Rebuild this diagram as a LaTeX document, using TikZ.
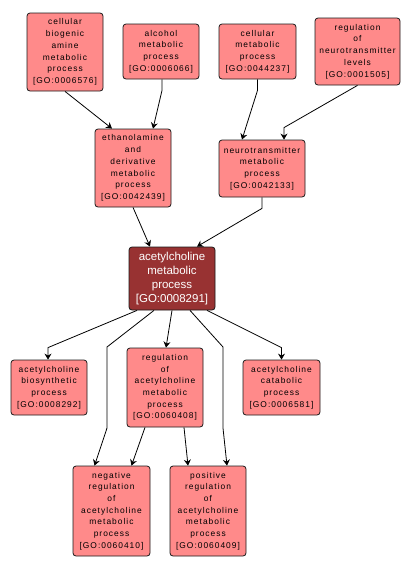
\documentclass[tikz,border=0pt]{standalone}
\usepackage{fontspec}
\usetikzlibrary{arrows.meta}
\newfontfamily\gofont[LetterSpace=12]{Liberation Sans}
\newfontfamily\gomain{Liberation Sans}
\definecolor{gofill}{HTML}{FF8A8A}
\definecolor{gomainfill}{HTML}{983232}
\definecolor{goedge}{HTML}{1A1A1A}
\newcommand{\goid}[1]{[GO:#1]}

\begin{document}
\begin{tikzpicture}[
  x=1pt, y=-1pt,
  >={Stealth[length=6pt,width=7pt,inset=2pt]},
  term/.style={rounded corners=3pt, draw=goedge, line width=0.8pt, fill=gofill,
               align=center, inner sep=0pt, text=black,
               font=\gofont\fontsize{8.4}{11.7}\selectfont},
  mainterm/.style={term, fill=gomainfill, text=white,
                   font=\gomain\fontsize{11.5}{14}\selectfont},
  arr/.style={->, draw=black, line width=0.8pt},
]
\useasboundingbox (0,0) rectangle (411,571);

% ---- top row ----
\node[term, minimum width=76, minimum height=78] (biogenic) at (65,52)
  {cellular\\biogenic\\amine\\metabolic\\process\\\goid{0006576}};
\node[term, minimum width=76, minimum height=55] (alcohol) at (161,51.5)
  {alcohol\\metabolic\\process\\\goid{0006066}};
\node[term, minimum width=77, minimum height=55] (cellmet) at (257.5,51.5)
  {cellular\\metabolic\\process\\\goid{0044237}};
\node[term, minimum width=85, minimum height=67] (regneuro) at (357.5,51.5)
  {regulation\\of\\neurotransmitter\\levels\\\goid{0001505}};

% ---- second row ----
\node[term, minimum width=76, minimum height=78] (ethanol) at (133,168)
  {ethanolamine\\and\\derivative\\metabolic\\process\\\goid{0042439}};
\node[term, minimum width=86, minimum height=57] (neurotrans) at (262,168.5)
  {neurotransmitter\\metabolic\\process\\\goid{0042133}};

% ---- main term ----
\node[mainterm, minimum width=86, minimum height=63] (acetyl) at (172,278.5)
  {acetylcholine\\metabolic\\process\\\goid{0008291}};

% ---- children ----
\node[term, minimum width=76, minimum height=55] (biosynth) at (49,387.5)
  {acetylcholine\\biosynthetic\\process\\\goid{0008292}};
\node[term, minimum width=76, minimum height=79] (regacetyl) at (165,387.5)
  {regulation\\of\\acetylcholine\\metabolic\\process\\\goid{0060408}};
\node[term, minimum width=77, minimum height=55] (catabolic) at (281.5,387.5)
  {acetylcholine\\catabolic\\process\\\goid{0006581}};
\node[term, minimum width=77, minimum height=90] (negreg) at (111.5,511)
  {negative\\regulation\\of\\acetylcholine\\metabolic\\process\\\goid{0060410}};
\node[term, minimum width=76, minimum height=90] (posreg) at (208,511)
  {positive\\regulation\\of\\acetylcholine\\metabolic\\process\\\goid{0060409}};

% ---- arrows ----
\draw[arr] (biogenic.south) -- ([xshift=-21]ethanol.north);
\draw[arr] ([xshift=1]alcohol.south) -- ++(0,11) -- ([xshift=20]ethanol.north);
\draw[arr] (cellmet.south) -- ++(0,11) -- ([xshift=-20]neurotrans.north);
\draw[arr] (regneuro.south) -- ([xshift=22,yshift=12]neurotrans.north) -- ([xshift=22]neurotrans.north);
\draw[arr] (ethanol.south) -- ([xshift=-22]acetyl.north);
\draw[arr] (neurotrans.south) -- ++(0,11) -- ([xshift=25]acetyl.north);
\draw[arr] ([xshift=-35]acetyl.south) -- ([xshift=-1,yshift=12]biosynth.north) -- ([xshift=-1]biosynth.north);
\draw[arr] ([xshift=-18]acetyl.south) -- (107,347) -- (107,428) -- ([xshift=-17]negreg.north);
\draw[arr] (acetyl.south) -- ([xshift=1]regacetyl.north);
\draw[arr] ([xshift=18]acetyl.south) -- (223,347) -- (223,428) -- ([xshift=19]posreg.north);
\draw[arr] ([xshift=35]acetyl.south) -- ([yshift=12]catabolic.north) -- (catabolic.north);
\draw[arr] ([xshift=-20]regacetyl.south) -- ([xshift=20]negreg.north);
\draw[arr] ([xshift=19]regacetyl.south) -- ([xshift=-20]posreg.north);

\end{tikzpicture}
\end{document}
